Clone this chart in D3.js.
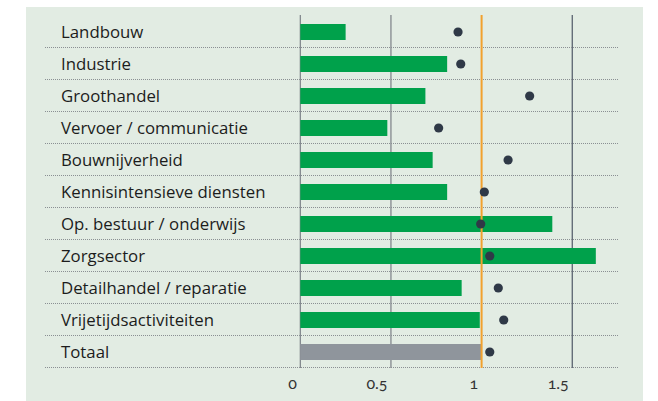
<!DOCTYPE html>
<html>
<head>
<meta charset="utf-8">
<script src="https://cdn.jsdelivr.net/npm/d3@7"></script>
<style>
  body { margin: 0; background: #fff; }
  svg { display: block; font-family: "Open Sans", Lato, sans-serif; }
  .tick-label { font-family: Lato, "Open Sans", sans-serif; font-variant-numeric: oldstyle-nums; }
</style>
</head>
<body>
<svg id="chart" width="658" height="401"></svg>
<script>
// sectors, bar values (green/grey) and dot values
const sectors = [
  'Landbouw', 'Industrie', 'Groothandel', 'Vervoer / communicatie',
  'Bouwnijverheid', 'Kennisintensieve diensten', 'Op. bestuur / onderwijs',
  'Zorgsector', 'Detailhandel / reparatie', 'Vrijetijdsactiviteiten', 'Totaal'
];
const barValues = [0.25, 0.81, 0.69, 0.48, 0.73, 0.81, 1.39, 1.63, 0.89, 0.99, 1.0];
const dotValues = [0.87, 0.885, 1.265, 0.763, 1.146, 1.015, 0.995, 1.045, 1.092, 1.122, 1.045];
const ticks = [0, 0.5, 1, 1.5];
const refValue = 1.0;

const svg = d3.select('#chart');

// panel
svg.append('rect')
  .attr('x', 26).attr('y', 7)
  .attr('width', 617).attr('height', 394)
  .attr('fill', '#e2ece3');

const x = d3.scaleLinear().domain([0, 1]).range([300.3, 481.6]);
const y = d3.scaleBand().domain(sectors).range([16, 368]).paddingInner(0.5).paddingOuter(0.25);
const step = y.step();

// vertical grid lines
svg.append('g')
  .selectAll('line')
  .data(ticks.filter(t => t !== refValue))
  .join('line')
  .attr('x1', d => x(d)).attr('x2', d => x(d))
  .attr('y1', 15).attr('y2', 368)
  .attr('stroke', d => d === 1.5 ? '#4f5866' : '#7b8087')
  .attr('stroke-width', 1.2);

// row separators
svg.append('g')
  .selectAll('line')
  .data(sectors)
  .join('line')
  .attr('x1', 45).attr('x2', 619)
  .attr('y1', d => y(d) + y.bandwidth() + step / 4 - 0.5)
  .attr('y2', d => y(d) + y.bandwidth() + step / 4 - 0.5)
  .attr('stroke', '#8a8f93')
  .attr('stroke-width', 1)
  .attr('stroke-dasharray', '1,1');

// bars
svg.append('g')
  .selectAll('rect')
  .data(sectors)
  .join('rect')
  .attr('x', x(0))
  .attr('y', d => y(d))
  .attr('width', (d, i) => x(barValues[i]) - x(0))
  .attr('height', y.bandwidth())
  .attr('fill', d => d === 'Totaal' ? '#8f959c' : '#00a14b');

// reference line
svg.append('line')
  .attr('x1', x(refValue)).attr('x2', x(refValue))
  .attr('y1', 15).attr('y2', 368)
  .attr('stroke', '#f2a12e')
  .attr('stroke-width', 2);

// dots
svg.append('g')
  .selectAll('circle')
  .data(sectors)
  .join('circle')
  .attr('cx', (d, i) => x(dotValues[i]))
  .attr('cy', d => y(d) + y.bandwidth() / 2)
  .attr('r', 4.6)
  .attr('fill', '#2f3947');

// category labels
svg.append('g')
  .selectAll('text')
  .data(sectors)
  .join('text')
  .attr('x', 61)
  .attr('y', d => y(d) + y.bandwidth() / 2 + 6)
  .attr('font-size', 16.8)
  .attr('fill', '#1c1c1c')
  .text(d => d);

// tick labels
svg.append('g')
  .selectAll('text')
  .data(ticks)
  .join('text')
  .attr('class', 'tick-label')
  .attr('x', d => x(d) - 3.5)
  .attr('y', 389)
  .attr('text-anchor', 'end')
  .attr('font-size', 16)
  .attr('fill', '#333')
  .text(d => d3.format('')(d));
</script>
</body>
</html>
